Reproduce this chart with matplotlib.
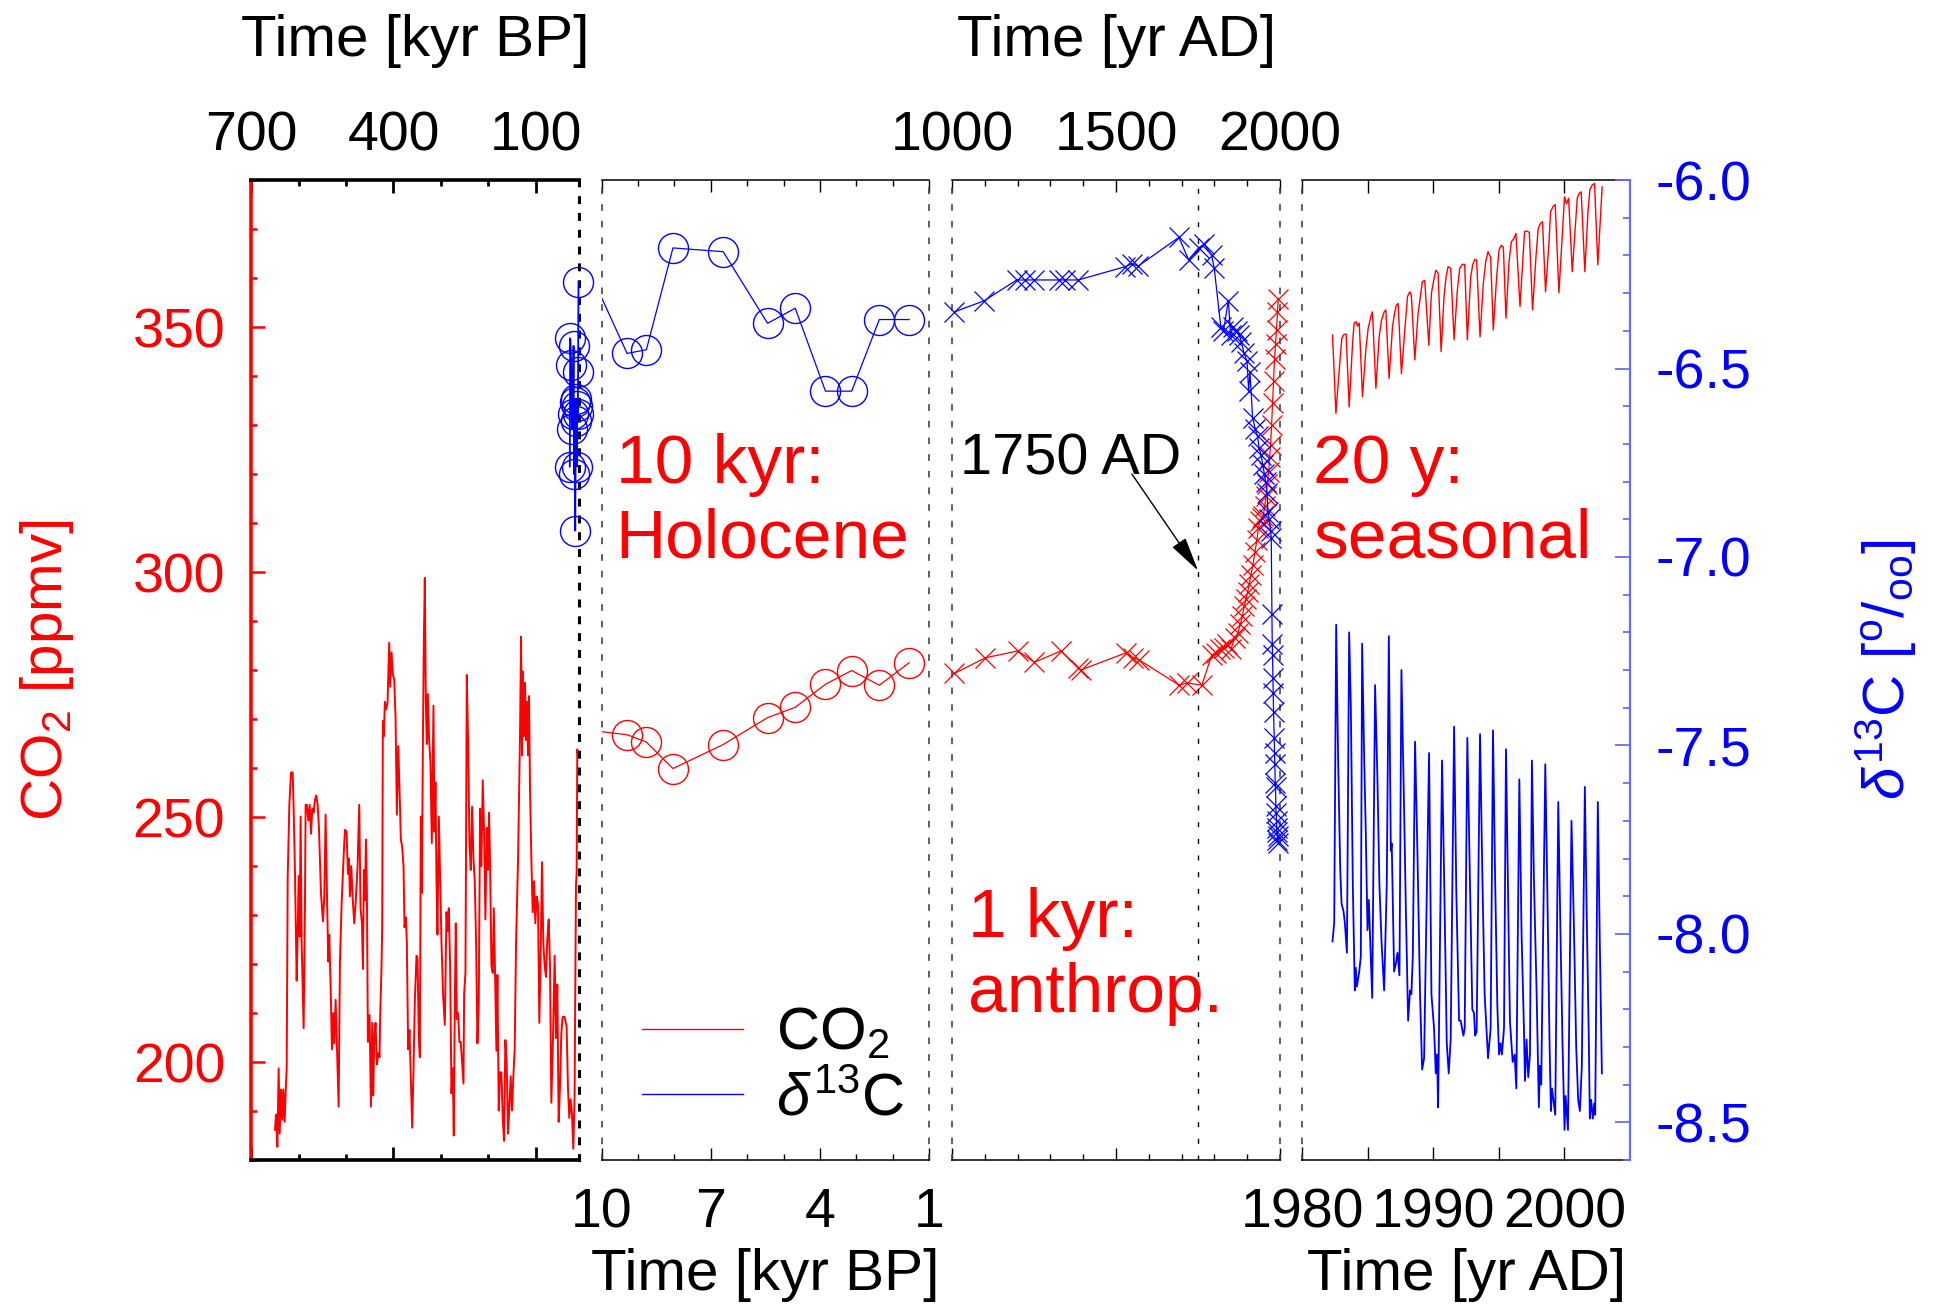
import matplotlib
matplotlib.use("Agg")
import matplotlib.pyplot as plt
import numpy as np
from matplotlib.lines import Line2D
from matplotlib.ticker import FixedLocator

output = "out.png"

plt.rcParams['font.family'] = ['Liberation Sans', 'DejaVu Sans']
plt.rcParams['mathtext.fontset'] = 'custom'
plt.rcParams['mathtext.rm'] = 'Liberation Sans'
plt.rcParams['mathtext.it'] = 'Liberation Sans:italic'
plt.rcParams['mathtext.bf'] = 'Liberation Sans:bold'
plt.rcParams['axes.unicode_minus'] = False

# ---------------------------------------------------------------------------
# Ice core CO2, last 650 kyr (age in kyr BP, CO2 in ppmv)
dc_age = [649.5, 647.4, 644.6, 641.8, 639.7, 636.9, 634.1, 632.0, 629.2, 627.0,
          624.9, 622.8, 619.3, 615.8, 612.3, 610.2, 607.4, 603.9, 601.8, 599.7,
          597.6, 595.5, 593.4, 589.2, 586.4, 585.0, 582.2, 579.4, 576.5, 573.7,
          570.9, 568.1, 565.3, 562.5, 559.7, 556.9, 552.7, 548.5, 545.7, 542.9,
          540.1, 537.3, 535.2, 531.7, 529.6, 526.8, 524.7, 521.8, 518.3, 515.5,
          512.7, 509.2, 505.0, 502.2, 498.7, 495.9, 493.8, 491.7, 488.9, 486.1,
          482.6, 479.8, 475.6, 472.1, 469.3, 466.4, 464.3, 462.2, 460.1, 458.0,
          455.9, 453.8, 450.3, 447.5, 444.7, 442.6, 440.5, 437.7, 434.9, 432.1,
          429.3, 427.9, 425.1, 423.7, 422.3, 420.2, 418.1, 415.3, 412.4, 408.9,
          406.8, 404.0, 401.2, 398.4, 395.6, 392.8, 390.0, 387.2, 384.4, 381.6,
          378.8, 376.7, 373.9, 371.8, 369.0, 366.2, 363.4, 360.5, 357.7, 354.9,
          351.4, 349.3, 346.5, 344.4, 342.3, 340.2, 338.1, 336.0, 333.9, 331.8,
          329.7, 327.6, 324.8, 322.0, 319.2, 317.8, 315.7, 313.6, 311.5, 309.4,
          307.3, 304.4, 301.6, 298.8, 295.3, 291.8, 288.3, 286.2, 283.4, 280.6,
          277.8, 275.0, 272.9, 270.8, 268.7, 266.6, 263.8, 261.0, 258.2, 254.7,
          252.5, 251.1, 248.3, 245.5, 242.7, 239.9, 237.1, 234.3, 231.5, 228.7,
          225.9, 223.1, 220.3, 217.5, 214.7, 211.9, 209.1, 206.3, 203.5, 200.7,
          198.6, 196.4, 193.6, 190.8, 188.7, 185.9, 183.1, 181.0, 178.2, 175.4,
          172.6, 169.8, 167.0, 164.2, 161.4, 158.6, 155.8, 153.0, 150.2, 147.4,
          144.6, 141.7, 137.5, 133.3, 131.2, 129.1, 127.7, 124.9, 122.8, 120.7,
          118.6, 116.5, 114.4, 112.3, 109.5, 106.7, 103.9, 101.1, 98.3, 95.5,
          92.7, 89.9, 87.1, 84.3, 81.5, 78.7, 75.8, 73.0, 70.2, 67.4,
          63.9, 60.4, 57.6, 54.8, 52.0, 49.2, 46.4, 43.6, 39.4, 35.2,
          32.4, 29.6, 26.7, 23.9, 21.1, 18.4, 15.5, 14.1, 12.7, 11.3]
dc_co2 = [186.2, 189.3, 182.7, 198.7, 185.4, 194.4, 188.2, 194.4, 187.8, 194.0,
          198.7, 237.6, 252.5, 259.1, 259.1, 251.7, 238.4, 216.6, 225.6, 238.0,
          225.6, 250.1, 224.4, 206.9, 232.2, 252.5, 252.5, 249.3, 252.5, 246.6,
          251.7, 250.9, 253.6, 254.4, 252.5, 247.8, 234.5, 228.7, 233.8, 250.5,
          234.5, 220.5, 226.0, 212.7, 202.6, 210.0, 203.8, 212.7, 201.0, 190.9,
          220.5, 232.2, 241.9, 247.4, 247.0, 238.4, 241.5, 233.8, 240.0, 233.8,
          228.3, 232.2, 240.0, 252.5, 231.4, 228.3, 219.0, 239.2, 233.0, 245.4,
          234.5, 204.1, 209.6, 190.9, 208.0, 193.2, 204.9, 208.0, 199.5, 201.8,
          201.0, 209.6, 219.7, 227.5, 269.6, 266.5, 273.5, 272.0, 273.5, 285.6,
          276.6, 283.6, 279.0, 278.2, 270.4, 250.5, 264.5, 255.6, 245.4, 243.9,
          240.0, 227.5, 229.5, 224.4, 202.6, 206.5, 197.1, 186.6, 198.7, 212.7,
          221.7, 221.3, 204.9, 201.0, 250.1, 234.5, 263.4, 286.0, 298.8, 273.5,
          264.9, 275.1, 265.7, 261.0, 244.7, 255.6, 272.7, 247.0, 257.1, 237.6,
          226.0, 250.1, 237.6, 224.4, 213.5, 207.6, 230.6, 226.7, 231.4, 219.7,
          193.6, 198.7, 185.0, 211.5, 228.3, 208.8, 210.0, 204.1, 204.1, 198.7,
          195.6, 213.9, 218.2, 279.0, 264.9, 244.7, 239.2, 252.1, 241.5, 236.9,
          224.4, 203.8, 211.9, 251.7, 240.0, 257.5, 247.0, 229.1, 247.8, 239.2,
          250.9, 240.0, 219.7, 218.2, 231.4, 217.8, 202.3, 217.8, 190.1, 197.9,
          197.9, 188.6, 183.9, 204.5, 199.5, 185.4, 190.9, 197.1, 190.1, 197.1,
          202.6, 224.4, 241.5, 267.3, 286.8, 262.6, 279.7, 266.5, 277.4, 265.7,
          273.5, 262.6, 274.7, 255.6, 241.5, 230.6, 236.9, 228.3, 233.8, 232.2,
          208.0, 222.1, 240.8, 224.4, 219.7, 217.4, 225.2, 229.1, 219.7, 191.7,
          204.9, 221.7, 204.9, 215.8, 187.8, 194.8, 205.7, 209.2, 209.2, 207.2,
          194.8, 188.6, 192.4, 189.3, 182.3, 193.2, 236.1, 238.4, 263.8, 262.6]

# Glacial delta13C samples (kyr BP, permil)
gl_age = [10.2, 11.0, 11.8, 12.8, 13.6, 14.5, 15.6, 17.1,
          18.2, 19.5, 20.6, 21.8, 23.5, 25.6, 27.6, 28.5]
gl_d13c = [-6.27, -6.51, -6.62, -6.60, -6.76, -6.64, -6.58, -6.93,
           -6.59, -6.78, -6.44, -6.62, -6.66, -6.49, -6.42, -6.76]

# Holocene record (kyr BP); the 10.2 kyr sample sits just outside the panel
td_age = [1.55, 2.37, 3.13, 3.85, 4.68, 5.44, 6.66, 8.04, 8.77, 9.30, 10.2]
td_co2 = [281.5, 276.9, 279.9, 277.1, 272.4, 270.3, 264.8, 259.9, 265.3, 266.8, 267.6]
td_d13c = [-6.37, -6.37, -6.56, -6.56, -6.34, -6.38, -6.19, -6.18, -6.45, -6.46, -6.27]

# Last millennium, ice + firn air (yr AD)
law_co2_year = [1006, 1101, 1200, 1251, 1332, 1385, 1392, 1530, 1551, 1570,
                1693, 1716, 1762, 1792, 1805, 1818, 1830, 1840, 1851, 1862,
                1872, 1880, 1886, 1891, 1897, 1902, 1907, 1912, 1918, 1924,
                1930, 1935, 1940, 1945, 1950, 1954, 1958, 1962, 1966, 1969,
                1972, 1975, 1978, 1981, 1984, 1987, 1990, 1993, 1995]
law_co2 = [279.3, 282.5, 283.9, 281.6, 283.9, 280.5, 280.0, 283.5, 282.5, 282.1,
           276.9, 277.4, 276.9, 283.0, 283.5, 284.2, 284.6, 285.3, 284.3, 286.5,
           287.5, 289.5, 291.0, 293.0, 294.5, 296.0, 297.5, 299.5, 301.5, 304.0,
           306.5, 309.0, 310.5, 311.0, 311.5, 313.5, 315.5, 318.0, 320.5, 323.5,
           326.0, 330.0, 334.5, 339.0, 343.5, 346.5, 349.5, 353.0, 355.8]
law_d13c_year = [1006, 1098, 1197, 1222, 1250, 1325, 1345, 1385, 1527, 1548,
                 1568, 1692, 1722, 1752, 1770, 1792, 1800, 1820, 1828, 1843,
                 1850, 1858, 1868, 1876, 1883, 1891, 1900, 1905, 1909, 1917,
                 1925, 1932, 1937, 1943, 1948, 1953, 1957, 1961, 1964, 1968,
                 1972, 1974, 1976, 1977, 1978, 1979, 1980, 1981, 1983, 1984,
                 1985, 1986, 1987, 1988, 1989, 1990, 1991, 1992, 1993, 1994, 1995]
law_d13c = [-6.35, -6.32, -6.265, -6.265, -6.265, -6.265, -6.265, -6.265, -6.23, -6.222,
            -6.228, -6.152, -6.212, -6.18, -6.17, -6.20, -6.234, -6.39, -6.40, -6.32,
            -6.41, -6.39, -6.40, -6.41, -6.43, -6.46, -6.48, -6.56, -6.51, -6.63,
            -6.66, -6.68, -6.71, -6.73, -6.755, -6.78, -6.80, -6.83, -6.88, -6.90,
            -6.93, -6.95, -7.15, -7.23, -7.26, -7.32, -7.36, -7.41, -7.48, -7.52,
            -7.55, -7.60, -7.61, -7.66, -7.68, -7.70, -7.72, -7.73, -7.75, -7.74, -7.76]

# Station record with seasonal cycle (decimal year)
st_co2_year = [1982.31, 1982.57, 1982.82, 1983.02, 1983.15, 1983.35, 1983.58, 1983.84,
               1983.96, 1984.12, 1984.22, 1984.35, 1984.60, 1984.85, 1985.03, 1985.23,
               1985.36, 1985.62, 1985.87, 1986.05, 1986.25, 1986.38, 1986.63, 1986.89,
               1987.06, 1987.19, 1987.32, 1987.57, 1987.83, 1988.03, 1988.21, 1988.33,
               1988.59, 1988.84, 1989.05, 1989.17, 1989.35, 1989.66, 1989.86, 1990.06,
               1990.19, 1990.37, 1990.60, 1990.82, 1990.98, 1991.13, 1991.33, 1991.59,
               1991.84, 1992.02, 1992.22, 1992.40, 1992.60, 1992.86, 1993.01, 1993.16,
               1993.31, 1993.57, 1993.82, 1994.00, 1994.18, 1994.38, 1994.58, 1994.84,
               1995.02, 1995.19, 1995.35, 1995.55, 1995.78, 1995.96, 1996.16, 1996.31,
               1996.62, 1996.82, 1996.97, 1997.18, 1997.33, 1997.58, 1997.84, 1998.01,
               1998.19, 1998.34, 1998.57, 1998.83, 1998.95, 1999.16, 1999.31, 1999.59,
               1999.84, 2000.02, 2000.17, 2000.33, 2000.61, 2000.86, 2000.99, 2001.14,
               2001.29, 2001.57, 2001.80, 2001.95, 2002.13, 2002.31, 2002.56, 2002.89]
st_co2 = [348.4, 332.4, 341.2, 347.7, 348.4, 348.6, 333.7, 346.7,
          350.8, 351.1, 350.2, 350.8, 335.8, 345.3, 349.7, 352.1,
          353.1, 337.5, 348.0, 351.4, 353.1, 353.5, 339.5, 350.1,
          353.1, 354.5, 354.8, 340.5, 349.4, 356.2, 357.2, 356.5,
          343.3, 352.8, 356.9, 359.3, 359.5, 346.3, 356.9, 359.9,
          361.6, 361.0, 345.0, 356.2, 360.3, 362.3, 362.0, 347.4,
          357.6, 362.0, 362.8, 362.8, 347.4, 360.3, 362.7, 363.8,
          363.7, 348.0, 358.9, 363.3, 365.4, 364.2, 349.4, 360.3,
          365.7, 366.7, 366.3, 351.8, 363.3, 367.4, 368.1, 369.1,
          354.2, 363.0, 369.5, 369.6, 369.3, 353.5, 364.4, 370.1,
          371.2, 371.5, 357.2, 367.1, 373.5, 374.7, 375.0, 357.0,
          368.4, 376.6, 375.2, 376.3, 361.3, 371.2, 376.3, 377.3,
          377.6, 361.3, 373.2, 378.0, 379.0, 379.3, 362.7, 378.6]
st_d13c_year = [1982.31, 1982.44, 1982.59, 1982.74, 1982.90, 1983.00, 1983.15, 1983.25, 1983.41, 1983.58, 1983.71, 1983.86,
                1984.01, 1984.09, 1984.17, 1984.35, 1984.47, 1984.57, 1984.73, 1984.85, 1984.98, 1985.08, 1985.16, 1985.34,
                1985.56, 1985.74, 1985.89, 1986.05, 1986.25, 1986.45, 1986.61, 1986.76, 1986.83, 1987.01, 1987.14, 1987.27,
                1987.42, 1987.57, 1987.78, 1987.90, 1988.08, 1988.23, 1988.33, 1988.44, 1988.61, 1988.79, 1988.99, 1989.15,
                1989.30, 1989.68, 1989.86, 1990.06, 1990.19, 1990.29, 1990.37, 1990.67, 1990.82, 1991.03, 1991.18, 1991.33,
                1991.59, 1991.76, 1991.97, 1992.09, 1992.30, 1992.40, 1992.60, 1992.81, 1992.98, 1993.11, 1993.19, 1993.31,
                1993.57, 1993.75, 1993.92, 1994.18, 1994.38, 1994.56, 1994.71, 1994.89, 1995.02, 1995.14, 1995.24, 1995.40,
                1995.55, 1995.70, 1995.85, 1996.06, 1996.21, 1996.34, 1996.57, 1996.74, 1996.92, 1997.00, 1997.12, 1997.25,
                1997.38, 1997.53, 1997.68, 1997.89, 1998.06, 1998.14, 1998.24, 1998.55, 1998.70, 1998.88, 1998.98, 1999.06,
                1999.31, 1999.54, 1999.72, 1999.87, 2000.02, 2000.10, 2000.28, 2000.55, 2000.73, 2000.91, 2001.06, 2001.19,
                2001.34, 2001.57, 2001.70, 2001.88, 2001.95, 2002.05, 2002.18, 2002.28, 2002.36, 2002.56, 2002.71, 2002.87]
st_d13c = [-8.02, -7.97, -7.18, -7.54, -7.83, -7.92, -7.94, -7.97, -8.05, -7.20, -7.40, -7.87,
           -8.15, -8.09, -8.14, -8.10, -8.06, -7.23, -7.54, -7.73, -7.99, -7.91, -7.99, -8.17,
           -7.34, -7.59, -7.87, -8.02, -8.15, -7.87, -7.21, -7.78, -7.76, -8.10, -8.08, -8.05,
           -8.11, -7.30, -7.68, -7.92, -8.23, -8.15, -8.16, -8.06, -7.49, -7.78, -8.16, -8.36,
           -8.33, -7.52, -8.16, -8.25, -8.37, -8.32, -8.46, -7.54, -7.83, -8.29, -8.37, -8.28,
           -7.45, -7.89, -8.23, -8.23, -8.27, -8.25, -7.48, -7.87, -8.20, -8.21, -8.27, -8.26,
           -7.47, -7.85, -8.16, -8.33, -8.25, -7.46, -7.83, -8.19, -8.32, -8.29, -8.32, -8.25,
           -7.51, -7.87, -8.23, -8.34, -8.32, -8.41, -7.59, -8.00, -8.25, -8.39, -8.28, -8.38,
           -8.32, -7.54, -7.85, -8.16, -8.46, -8.35, -8.40, -7.55, -7.87, -8.30, -8.47, -8.41,
           -8.48, -7.65, -8.02, -8.30, -8.52, -8.43, -8.52, -7.70, -7.97, -8.30, -8.44, -8.47,
           -8.35, -7.61, -7.92, -8.30, -8.49, -8.44, -8.49, -8.45, -8.48, -7.65, -8.02, -8.37]

# ---------------------------------------------------------------------------
RED = '#ff0000'
BLUE = '#0000ff'
AXIS_BLUE = '#6a6aff'
FS = 40          # tick labels
LABEL_FS = 42    # axis titles
CO2_LIM = (180, 380)
D13C_LIM = (-8.6, -6.0)
DASH = (0, (3.0, 7.0))

fig = plt.figure(figsize=(19.37, 13.04), dpi=100)
lefts = [0.1296, 0.3106, 0.4916, 0.6723]
width, bottom, height = 0.1691, 0.1104, 0.7515

axes, twins = [], []
for left in lefts:
    ax = fig.add_axes([left, bottom, width, height])
    tw = ax.twinx()
    ax.tick_params(axis='y', which='both', left=False, right=False,
                   labelleft=False, labelright=False)
    tw.tick_params(axis='y', which='both', left=False, right=False,
                   labelleft=False, labelright=False)
    ax.tick_params(axis='x', which='both', direction='in', top=True, bottom=True,
                   labelsize=FS, width=1.0, color='black')
    ax.tick_params(axis='x', which='major', length=8.6)
    ax.tick_params(axis='x', which='minor', length=4.3)
    # dashed sides, solid top/bottom
    for side in ('left', 'right'):
        ax.spines[side].set_linestyle(DASH)
        ax.spines[side].set_color('#444444')
        ax.spines[side].set_linewidth(1.2)
    for side in ('top', 'bottom'):
        ax.spines[side].set_linewidth(1.1)
    for sp in tw.spines.values():
        sp.set_visible(False)
    axes.append(ax)
    twins.append(tw)

ax1, ax2, ax3, ax4 = axes
tw1, tw2, tw3, tw4 = twins

# --- panel 1: glacial cycles ---
ax1.plot(dc_age, dc_co2, color=RED, lw=1.4)
tw1.plot(gl_age, gl_d13c, color=BLUE, lw=1.3, marker='o', ms=21.6, mfc='none',
         mew=1.0, clip_on=False)
ax1.set_xlim(700, 10)
ax1.xaxis.set_major_locator(FixedLocator([700, 400, 100]))
ax1.xaxis.set_minor_locator(FixedLocator([600, 500, 300, 200]))
ax1.tick_params(axis='x', which='both', labeltop=True, labelbottom=False,
                width=2.0, pad=12.4)
ax1.tick_params(axis='x', which='major', length=9.4)
ax1.yaxis.set_major_locator(FixedLocator([200, 250, 300, 350]))
ax1.yaxis.set_minor_locator(FixedLocator(list(range(180, 381, 10))))
ax1.tick_params(axis='y', which='both', left=True, labelleft=True, direction='in',
                colors=RED, width=1.8, labelsize=FS, pad=18.7)
ax1.tick_params(axis='y', which='major', length=10)
ax1.tick_params(axis='y', which='minor', length=4.5)
ax1.spines['left'].set_linestyle('solid')
ax1.spines['left'].set_color(RED)
ax1.spines['left'].set_linewidth(2.6)
ax1.spines['top'].set_linewidth(2.6)
ax1.spines['bottom'].set_linewidth(2.6)
ax1.spines['right'].set_linestyle((0, (1.6, 3.9)))
ax1.spines['right'].set_color('black')
ax1.spines['right'].set_linewidth(2.2)
ax1.set_xlabel('Time [kyr BP]', fontsize=LABEL_FS)
ax1.xaxis.set_label_position('top')
ax1.xaxis.set_label_coords(0.5, 1.127)
ax1.set_ylabel('CO$_2$ [ppmv]', fontsize=LABEL_FS, color=RED)
ax1.yaxis.set_label_coords(-0.533, 0.5)

# --- panel 2: Holocene ---
holo = [i for i, a in enumerate(td_age) if a <= 10]
ax2.plot(td_age, td_co2, color=RED, lw=0.9, marker='o', ms=21.6, mfc='none',
         mew=1.0, markevery=holo)
tw2.plot(td_age, td_d13c, color=BLUE, lw=0.9, marker='o', ms=21.6, mfc='none',
         mew=1.0, markevery=holo)
ax2.set_xlim(10, 1)
ax2.xaxis.set_major_locator(FixedLocator([10, 7, 4, 1]))
ax2.xaxis.set_minor_locator(FixedLocator([9, 8, 6, 5, 3, 2]))
ax2.tick_params(axis='x', labelbottom=True, labeltop=False, pad=19.5)
ax2.set_xlabel('Time [kyr BP]', fontsize=LABEL_FS)
ax2.xaxis.set_label_coords(0.5, -0.090)
ax2.text(0.043, 0.742, '10 kyr:\nHolocene', transform=ax2.transAxes, color=RED,
         fontsize=50, va='top', ha='left', linespacing=1.22)
handles = [Line2D([], [], color=RED, lw=1.0), Line2D([], [], color=BLUE, lw=1.0)]
ax2.legend(handles, ['CO$_2$', r'$\delta^{13}$C'], loc='center left',
           bbox_to_anchor=(0.122, 0.095), bbox_transform=ax2.transAxes,
           frameon=False, fontsize=43, handlelength=1.69, handletextpad=0.56,
           labelspacing=0.17, borderpad=0, borderaxespad=0)

# --- panel 3: last millennium ---
ax3.plot(law_co2_year, law_co2, color=RED, lw=0.9, marker='x', ms=13.7, mew=0.9,
         clip_on=False)
tw3.plot(law_d13c_year, law_d13c, color=BLUE, lw=0.9, marker='x', ms=13.7, mew=0.9,
         clip_on=False)
ax3.set_xlim(1000, 2000)
ax3.set_xticks([1000, 1500, 2000], ['1000', '1500', '2000'])
ax3.set_xticks([1100, 1200, 1300, 1400, 1600, 1700, 1800, 1900], minor=True)
ax3.tick_params(axis='x', labeltop=True, labelbottom=False, pad=12.4)
ax3.axvline(1750, color='black', lw=1.0, ls=(0, (3.6, 8.4)))
ax3.set_xlabel('Time [yr AD]', fontsize=LABEL_FS)
ax3.xaxis.set_label_position('top')
ax3.xaxis.set_label_coords(0.5, 1.127)
ax3.text(0.048, 0.2786, '1 kyr:\nanthrop.', transform=ax3.transAxes, color=RED,
         fontsize=50, va='top', ha='left', linespacing=1.22)
ax3.text(1025, 320.0, '1750 AD', fontsize=41.5, va='baseline', ha='left')
ax3.annotate('', xy=(1750.5, 300.3), xytext=(1548.6, 320.0),
             arrowprops=dict(arrowstyle='-|>,head_length=0.6,head_width=0.14',
                             color='black', lw=1.0, shrinkA=0, shrinkB=0,
                             mutation_scale=36))

# --- panel 4: seasonal cycle ---
ax4.plot(st_co2_year, st_co2, color=RED, lw=1.0)
tw4.plot(st_d13c_year, st_d13c, color=BLUE, lw=1.3)
ax4.set_xlim(1980, 2005)
ax4.set_xticks([1980, 1990, 2000], ['1980', '1990', '2000'])
ax4.set_xticks([1985, 1995], minor=True)
ax4.tick_params(axis='x', which='both', length=9.1, labelbottom=True,
                labeltop=False, pad=19.5)
ax4.set_xlabel('Time [yr AD]', fontsize=LABEL_FS)
ax4.xaxis.set_label_coords(0.5, -0.090)
ax4.text(0.033, 0.742, '20 y:\nseasonal', transform=ax4.transAxes, color=RED,
         fontsize=50, va='top', ha='left', linespacing=1.22)
ax4.spines['right'].set_visible(False)
tw4.spines['right'].set_visible(True)
tw4.spines['right'].set_color(AXIS_BLUE)
tw4.spines['right'].set_linewidth(1.6)
tw4.yaxis.set_major_locator(FixedLocator([-8.5, -8.0, -7.5, -7.0, -6.5, -6.0]))
tw4.yaxis.set_minor_locator(FixedLocator([round(-8.6 + 0.1 * k, 1) for k in range(27)]))
tw4.yaxis.set_major_formatter('{x:.1f}')
tw4.tick_params(axis='y', which='both', right=True, labelright=True, direction='in',
                color=AXIS_BLUE, labelcolor=BLUE, width=1.3, labelsize=FS, pad=18.5)
tw4.tick_params(axis='y', which='major', length=10.8)
tw4.tick_params(axis='y', which='minor', length=5.4)
tw4.set_ylabel(r'$\delta^{13}$C [$^{\rm o}$/$_{\rm oo}$]', fontsize=LABEL_FS, color=BLUE)
tw4.yaxis.set_label_coords(1.683, 0.5)

for ax, tw in zip(axes, twins):
    ax.set_ylim(*CO2_LIM)
    tw.set_ylim(*D13C_LIM)

plt.savefig(output, dpi=100)
